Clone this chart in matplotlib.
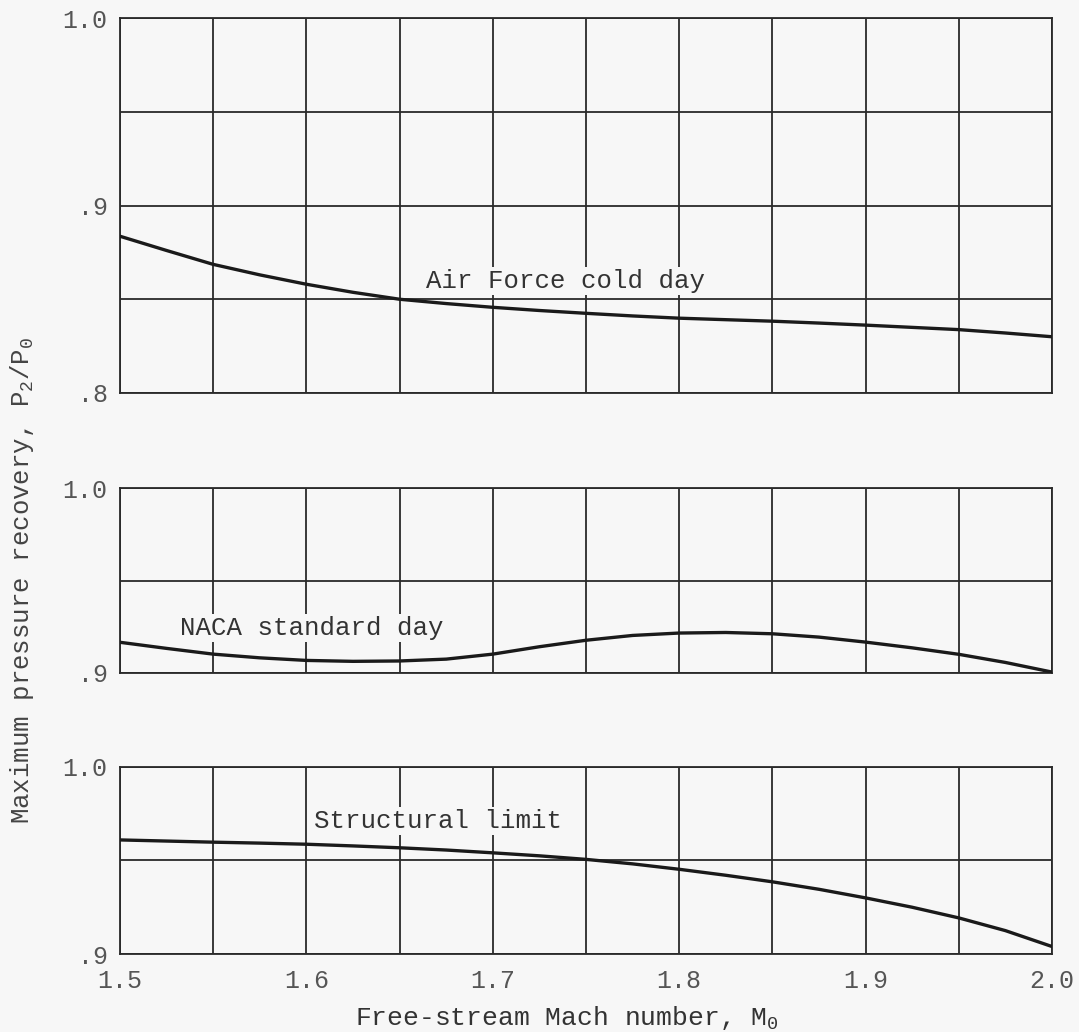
import numpy as np
import matplotlib
matplotlib.use("Agg")
import matplotlib.pyplot as plt

# values
mach = [1.5, 1.525, 1.55, 1.575, 1.6, 1.625, 1.65, 1.675, 1.7, 1.725, 1.75,
        1.775, 1.8, 1.825, 1.85, 1.875, 1.9, 1.925, 1.95, 1.975, 2.0]
air_force_cold = [0.8836, 0.876, 0.8686, 0.863, 0.858, 0.8537, 0.850, 0.8477, 0.8457, 0.844, 0.8425,
                  0.8411, 0.8399, 0.8391, 0.8383, 0.8373, 0.8362, 0.835, 0.8338, 0.832, 0.830]
naca_standard = [0.9166, 0.9133, 0.9102, 0.9082, 0.9068, 0.9063, 0.9065, 0.9075, 0.9102, 0.9142, 0.9177,
                 0.9203, 0.9216, 0.9219, 0.9212, 0.9194, 0.9167, 0.9136, 0.9101, 0.9057, 0.9005]
structural = [0.961, 0.9604, 0.9598, 0.9593, 0.9587, 0.9578, 0.9568, 0.9556, 0.9541, 0.9525, 0.9506,
              0.9482, 0.9453, 0.9421, 0.9386, 0.9346, 0.930, 0.925, 0.9193, 0.9125, 0.904]

panel_ylims = [(0.8, 1.0), (0.9, 1.0), (0.9, 1.0)]
panel_yticks = [[0.8, 0.9, 1.0], [0.9, 1.0], [0.9, 1.0]]
ytick_labels = [[".8", ".9", "1.0"], [".9", "1.0"], [".9", "1.0"]]
xticks = [1.5, 1.6, 1.7, 1.8, 1.9, 2.0]
curve_labels = ["Air Force cold day", "NACA standard day", "Structural limit"]
label_pos = [(1.664, 0.8535), (1.532, 0.9178), (1.604, 0.9645)]

plt.rcParams["font.family"] = ["Liberation Mono", "DejaVu Sans Mono"]
plt.rcParams["mathtext.fontset"] = "custom"
plt.rcParams["mathtext.rm"] = "Liberation Mono"
plt.rcParams["mathtext.it"] = "Liberation Mono"

bg = "#f7f7f7"
fig = plt.figure(figsize=(10.79, 10.32), dpi=100, facecolor=bg)

W, H = 1079, 1032
left, right = 120, 1052
boxes = [(18, 393), (488, 673), (767, 954)]
series = [air_force_cold, naca_standard, structural]

for i, (top, bot) in enumerate(boxes):
    ax = fig.add_axes([left / W, 1 - bot / H, (right - left) / W, (bot - top) / H])
    ax.set_facecolor(bg)
    ax.plot(mach, series[i], color="#1a1a1a", lw=2.4, solid_joinstyle="round", zorder=3)
    ax.set_xlim(1.5, 2.0)
    ax.set_ylim(*panel_ylims[i])
    ax.set_xticks(np.arange(1.5, 2.001, 0.05), minor=True)
    ax.set_yticks(np.arange(panel_ylims[i][0], panel_ylims[i][1] + 0.001, 0.05), minor=True)
    ax.set_yticks(panel_yticks[i])
    ax.set_yticklabels(ytick_labels[i])
    ax.set_xticks(xticks)
    if i == 2:
        ax.set_xticklabels(["%.1f" % v for v in xticks])
        ax.set_xlabel(r"Free-stream Mach number, M$_\mathrm{0}$", fontsize=19,
                      color="#333333")
        ax.xaxis.set_label_coords(0.48, -0.27)
    else:
        ax.set_xticklabels([])
    ax.set_axisbelow(True)
    ax.grid(which="both", color="#2a2a2a", lw=1.3)
    ax.tick_params(which="both", length=0)
    ax.tick_params(axis="y", pad=9, labelsize=18, labelcolor="#555555")
    ax.tick_params(axis="x", pad=11, labelsize=18, labelcolor="#555555")
    for s in ax.spines.values():
        s.set_color("#2a2a2a")
        s.set_linewidth(1.3)
    ax.text(label_pos[i][0], label_pos[i][1], curve_labels[i], fontsize=18.5,
            color="#333333", ha="left", va="bottom", zorder=2,
            bbox=dict(facecolor=bg, edgecolor="none", pad=1.5))

fig.text(22 / W, 1 - 580 / H, r"Maximum pressure recovery, P$_\mathrm{2}$/P$_\mathrm{0}$",
         rotation=90, ha="center", va="center", fontsize=18.5, color="#444444")

fig.savefig("out.png", dpi=100, facecolor=bg)
